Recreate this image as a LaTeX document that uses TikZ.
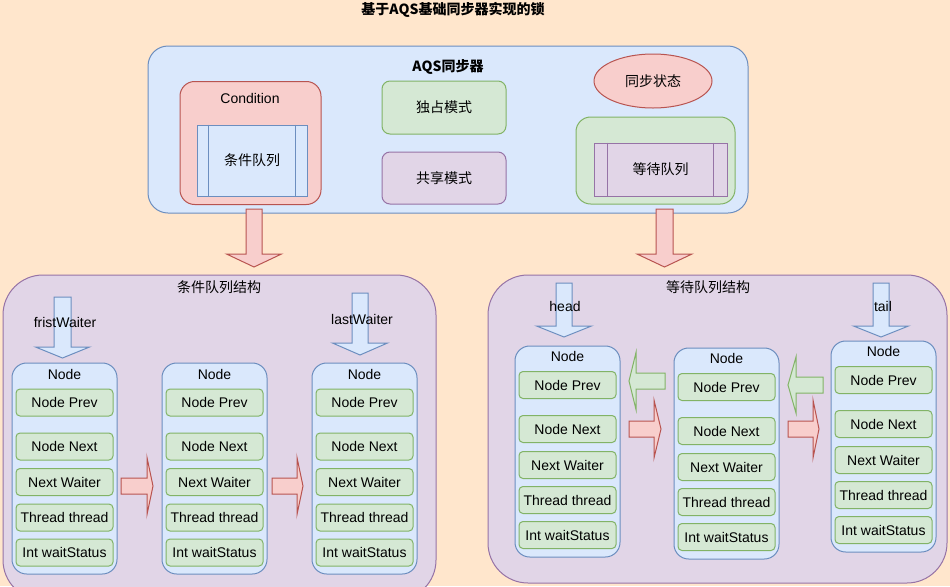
\documentclass[tikz,border=0pt]{standalone}
\usepackage{fontspec}
\setmainfont{Liberation Sans}
\newfontfamily\cjk{Noto Sans CJK SC}
\usetikzlibrary{shapes.geometric}
\definecolor{peach}{HTML}{FFE6CC}
\definecolor{bluF}{HTML}{DAE8FC}
\definecolor{bluS}{HTML}{6C8EBF}
\definecolor{redF}{HTML}{F8CECC}
\definecolor{redS}{HTML}{B85450}
\definecolor{grnF}{HTML}{D5E8D4}
\definecolor{grnS}{HTML}{82B366}
\definecolor{purF}{HTML}{E1D5E7}
\definecolor{purS}{HTML}{9673A6}
\newcommand\hblock[7]{\draw[#1] (#2,{#5-#6}) -- (#3,{#5-#6}) -- (#3,{#5-#7}) -- (#4,#5) -- (#3,{#5+#7}) -- (#3,{#5+#6}) -- (#2,{#5+#6}) -- cycle;}
\newcommand\vblock[7]{\draw[#1] ({#5-#6},#2) -- ({#5-#6},#3) -- ({#5-#7},#3) -- (#5,#4) -- ({#5+#7},#3) -- ({#5+#6},#3) -- ({#5+#6},#2) -- cycle;}
\begin{document}
\begin{tikzpicture}[x=0.75pt,y=-0.75pt,line width=0.75pt,
  txt/.style={font=\fontsize{10.5}{12}\selectfont, inner sep=0pt},
  ctxt/.style={font=\cjk\fontsize{10.5}{12}\selectfont, inner sep=0pt},
  blubox/.style={draw=bluS, fill=bluF},
  redbox/.style={draw=redS, fill=redF},
  grnbox/.style={draw=grnS, fill=grnF},
  purbox/.style={draw=purS, fill=purF},
  nodebox/.style={blubox, rounded corners=11pt, minimum width=78.75pt, minimum height=158.25pt, inner sep=0pt},
  field/.style={grnbox, txt, rounded corners=3pt, minimum width=72.75pt, minimum height=20.25pt},
  redarr/.style={draw=redS, fill=redF},
  grnarr/.style={draw=grnS, fill=grnF},
  bluarr/.style={draw=bluS, fill=bluF}]
\useasboundingbox (0,0) rectangle (950,586);
\clip (0,0) rectangle (950,586);
\fill[peach] (0,0) rectangle (950,586);
% title
\node[ctxt, font=\cjk\bfseries\fontsize{10.5}{12}\selectfont] (title) at (453,10) {基于AQS基础同步器实现的锁};
% AQS box
\node[blubox, rounded corners=15pt, minimum width=450pt, minimum height=125.25pt] (aqs) at (448,129.5) {};
\node[ctxt, font=\cjk\bfseries\fontsize{10.5}{12}\selectfont] (aqslbl) at (448,67) {AQS同步器};
\node[redbox, rounded corners=11pt, minimum width=105.75pt, minimum height=92.25pt] (cond) at (250.5,143) {};
\node[txt] (condlbl) at (250,98) {Condition};
\node[blubox, ctxt, minimum width=82.5pt, minimum height=53.25pt] (cq) at (252,160.5) {条件队列};
\draw[bluS] ([xshift=9pt]cq.north west) -- ([xshift=9pt]cq.south west);
\draw[bluS] ([xshift=-9pt]cq.north east) -- ([xshift=-9pt]cq.south east);
\node[grnbox, ctxt, rounded corners=6pt, minimum width=93pt, minimum height=39.75pt] (excl) at (444,107.5) {独占模式};
\node[purbox, ctxt, rounded corners=6pt, minimum width=93pt, minimum height=39pt] (shar) at (444,178) {共享模式};
\node[redbox, ctxt, ellipse, minimum width=88.5pt, minimum height=40.5pt] (state) at (653,81) {同步状态};
\node[grnbox, rounded corners=11pt, minimum width=119.25pt, minimum height=65.25pt] (wbox) at (655.5,160.5) {};
\node[purbox, ctxt, minimum width=99.75pt, minimum height=39.75pt] (wq) at (660.5,169.5) {等待队列};
\draw[purS] ([xshift=10.5pt]wq.north west) -- ([xshift=10.5pt]wq.south west);
\draw[purS] ([xshift=-10.5pt]wq.north east) -- ([xshift=-10.5pt]wq.south east);
% down arrows
\vblock{redarr}{209}{254}{267}{254}{8}{27.5}
\vblock{redarr}{209}{254}{267}{664.5}{8.5}{27.5}
% containers
\node[purbox, rounded corners=30pt, minimum width=324.75pt, minimum height=243.75pt] (condc) at (219.5,437.5) {};
\node[ctxt] (condct) at (219,287) {条件队列结构};
\node[purbox, rounded corners=30pt, minimum width=344.25pt, minimum height=231pt] (waitc) at (717.5,429) {};
\node[ctxt] (waitct) at (708,287) {等待队列结构};
% left nodes
\foreach \n/\x in {a/64.5,b/214.5,c/364.5}{
  \node[nodebox] (L\n) at (\x,468.5) {};
  \node[txt] (L\n t) at (\x,374) {Node};
  \node[field] (L\n 1) at (\x,402.5) {Node Prev};
  \node[field] (L\n 2) at (\x,446.5) {Node Next};
  \node[field] (L\n 3) at (\x,482) {Next Waiter};
  \node[field] (L\n 4) at (\x,517.5) {Thread thread};
  \node[field] (L\n 5) at (\x,552.5) {Int waitStatus};
}
% right nodes
\foreach \n/\x/\d in {a/567.5/0,b/726.5/2,c/883.5/-5}{
  \node[nodebox] (R\n) at (\x,451.5+\d) {};
  \node[txt] (R\n t) at (\x,356+\d) {Node};
  \node[field] (R\n 1) at (\x,385+\d) {Node Prev};
  \node[field] (R\n 2) at (\x,429+\d) {Node Next};
  \node[field] (R\n 3) at (\x,465+\d) {Next Waiter};
  \node[field] (R\n 4) at (\x,500+\d) {Thread thread};
  \node[field] (R\n 5) at (\x,535+\d) {Int waitStatus};
}
% pointer arrows
\vblock{bluarr}{297}{347}{358}{62.5}{8.5}{27}
\node[txt] (fw) at (65,322) {fristWaiter};
\vblock{bluarr}{293}{343}{355}{360}{8}{27.5}
\node[txt] (lw) at (362,319) {lastWaiter};
\vblock{bluarr}{283}{326}{337}{564}{8}{27.5}
\node[txt] (hd) at (565,306) {head};
\vblock{bluarr}{283}{326}{337}{881}{8}{27.5}
\node[txt] (tl) at (883,306) {tail};
% horizontal arrows
\hblock{redarr}{121}{147}{153}{486}{8}{28.5}
\hblock{redarr}{272}{297}{303}{486}{8}{28.5}
\hblock{redarr}{629}{654}{661}{429}{8}{29}
\hblock{redarr}{788}{813}{819}{429}{8}{29}
\hblock{grnarr}{665}{636}{629}{381}{8}{28.5}
\hblock{grnarr}{823}{796}{788}{385}{8}{28}
\end{tikzpicture}
\end{document}
